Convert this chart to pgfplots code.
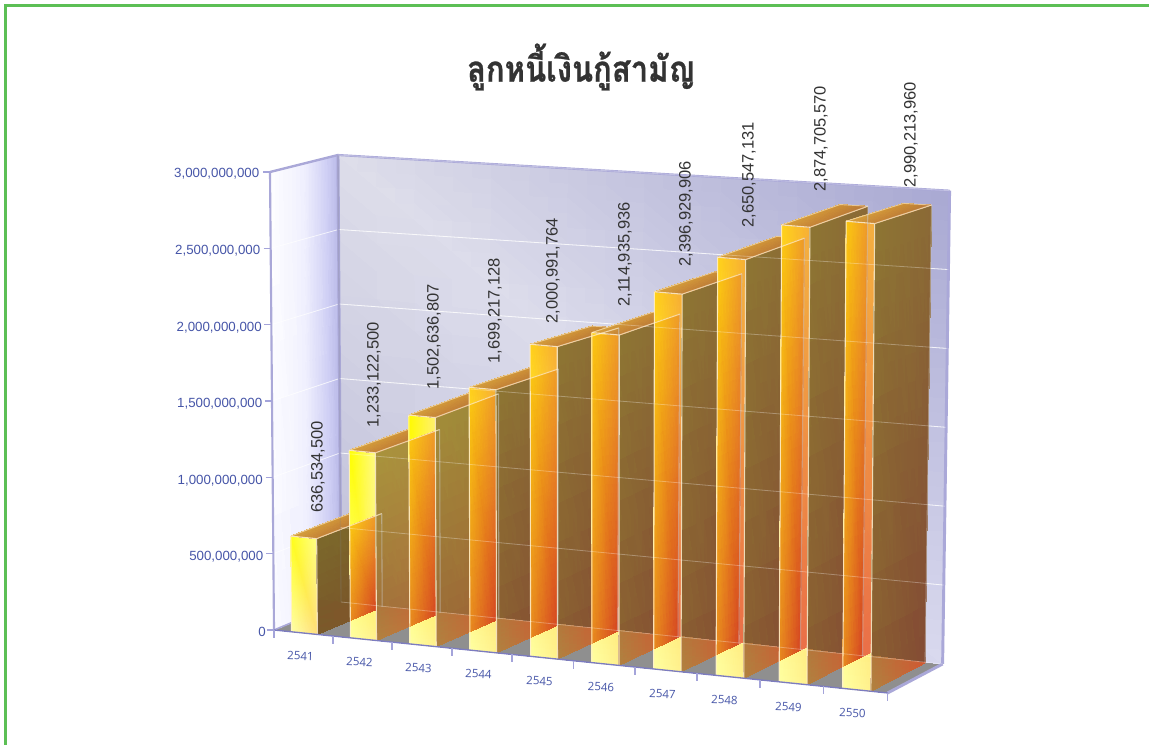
\documentclass[border=0pt]{standalone}
\usepackage{fontspec}
\setmainfont{Liberation Sans}
\newfontfamily\thaifont[Script=Thai,BoldFeatures={FakeBold=0.7}]{Loma}
\newfontfamily\catfont{Open Sans}
\usepackage{pgfplots}
\usepackage{pgfplotstable}
\pgfplotsset{compat=1.18}
\definecolor{frame}{HTML}{AAA8D8}
\definecolor{axisdark}{HTML}{7C7CC0}
\definecolor{tickc}{HTML}{A4A4DA}
\definecolor{lab}{HTML}{4655A8}
\definecolor{vallab}{HTML}{333333}
\definecolor{pale}{HTML}{FFF0D0}
\definecolor{border}{HTML}{5CBF55}

% k, kb: foreshortening of the bar height at its front and back in the reference's perspective
\pgfplotstableread{
idx value label lx ly k kb
0 636534500 636,534,500 318 513 .984 .980
1 1233122500 1,233,122,500 374 428 .993 .988
2 1502636807 1,502,636,807 434 390 .992 .990
3 1699217128 1,699,217,128 495 364 1.005 .990
4 2000991764 2,000,991,764 553 324 1.011 .990
5 2114935936 2,114,935,936 625 307 1.009 .993
6 2396929906 2,396,929,906 686 267 1.015 .997
7 2650547131 2,650,547,131 749 228 1.015 .998
8 2874705570 2,874,705,570 821 192 1.020 1.000
9 2990213960 2,990,213,960 911 188 1.000 .972
}\bardata

\makeatletter
% trilinear map of the slightly perspective box: t = category position, y = depth, z = value/3e9
\newcommand\vtx[3]{%
  \pgfmathsetmacro\Xv{(58.4*(#1)+0.296*(#1)*(#1))/614}%
  \pgfmathsetmacro\ua{274+614*\Xv}\pgfmathsetmacro\ub{341+602*\Xv}%
  \pgfmathsetmacro\uc{270+622*\Xv}\pgfmathsetmacro\ud{338+612*\Xv}%
  \pgfmathsetmacro\va{630+63*\Xv}\pgfmathsetmacro\vb{602+62*\Xv}%
  \pgfmathsetmacro\vc{172+51.5*\Xv}\pgfmathsetmacro\vd{155+35.7*\Xv}%
  \pgfmathsetmacro\ulo{\ua+(\ub-\ua)*(#2)}\pgfmathsetmacro\uhi{\uc+(\ud-\uc)*(#2)}%
  \pgfmathsetmacro\vlo{\va+(\vb-\va)*(#2)}\pgfmathsetmacro\vhi{\vc+(\vd-\vc)*(#2)}%
  \pgfmathsetmacro\vu{\ulo+(\uhi-\ulo)*(#3)}\pgfmathsetmacro\vv{\vlo+(\vhi-\vlo)*(#3)}%
}
\def\vtxc#1,#2,#3\relax{\vtx{#1}{#2}{#3}}
\newcommand\face[8]{%
  \vtxc#1\relax\edef\pa{(\vu,\vv) [rgb255=#5]}%
  \vtxc#2\relax\edef\pb{(\vu,\vv) [rgb255=#6]}%
  \vtxc#3\relax\edef\pc{(\vu,\vv) [rgb255=#7]}%
  \vtxc#4\relax\edef\pd{(\vu,\vv) [rgb255=#8]}%
  \edef\tmp{\noexpand\addplot[facepatch] coordinates {\pa\space\pb\space\pc\space\pd};}\tmp
}
\newcommand\tri[6]{%
  \vtxc#1\relax\edef\pa{(\vu,\vv) [rgb255=#4]}%
  \vtxc#2\relax\edef\pb{(\vu,\vv) [rgb255=#5]}%
  \vtxc#3\relax\edef\pc{(\vu,\vv) [rgb255=#6]}%
  \edef\tmp{\noexpand\addplot[facepatch,patch type=triangle] coordinates {\pa\space\pb\space\pc};}\tmp
}
\newcommand\seg[3]{%
  \vtxc#2\relax\edef\pa{(\vu,\vv)}%
  \vtxc#3\relax\edef\pb{(\vu,\vv)}%
  \edef\tmp{\noexpand\addplot[#1,forget plot] coordinates {\pa\space\pb};}\tmp
}
\newcommand\getbar[1]{%
  \pgfplotstablegetelem{#1}{value}\of\bardata\let\val\pgfplotsretval
  \pgfplotstablegetelem{#1}{k}\of\bardata\let\kval\pgfplotsretval
  \pgfplotstablegetelem{#1}{kb}\of\bardata\let\kbval\pgfplotsretval
  \begingroup\pgfkeys{/pgf/fpu=true,/pgf/fpu/output format=fixed}%
  \pgfmathparse{\val/3000000000*\kval}\xdef\zv{\pgfmathresult}%
  \pgfmathparse{\val/3000000000*\kbval}\xdef\zb{\pgfmathresult}\endgroup
}
\makeatother
\pgfplotsset{facepatch/.style={patch,patch type=rectangle,shader=interp,
  mesh/color input=explicit,point meta=explicit symbolic,forget plot}}
\newcommand\px[1]{\fontsize{\dimexpr#1pt*3/4\relax}{\dimexpr#1pt\relax}\selectfont}

\begin{document}
\begin{tikzpicture}
\begin{axis}[
  scale only axis, width=861.75pt, height=558.75pt,
  xmin=0,xmax=1149,ymin=0,ymax=745,y dir=reverse,
  hide axis, clip=true, no markers,
]
\addplot[fill=white,draw=none,forget plot] coordinates {(0,0)(1149,0)(1149,745)(0,745)} --cycle;
\addplot[color=border,line width=2pt,forget plot] coordinates {(1149,5.3)(5.3,5.3)(5.3,745)};

% floor
\face{0,0,0}{10,0,0}{10,1,0}{0,1,0}{143,143,143}{143,143,143}{143,143,143}{143,143,143}
% left wall
\face{0,0,0}{0,.5,0}{0,.5,1}{0,0,1}{250,250,255}{240,240,254}{240,240,254}{255,255,255}
\face{0,.5,0}{0,.85,0}{0,.85,1}{0,.5,1}{240,240,254}{206,206,244}{206,206,244}{240,240,254}
\face{0,.85,0}{0,1,0}{0,1,1}{0,.85,1}{206,206,244}{186,186,232}{186,186,232}{206,206,244}
% back wall
\face{0,1,0}{10,1,0}{10,1,1}{0,1,1}{192,192,218}{217,217,238}{168,168,210}{222,222,234}
% grid on walls
\foreach \g in {0,1,...,6}{%
  \pgfmathsetmacro\gz{\g/6}%
  \ifnum\g>0
  \seg{white,line width=.6pt,opacity=.75}{0,0,\gz}{0,1,\gz}
  \seg{white,line width=.6pt,opacity=.75}{0,1,\gz}{10,1,\gz}
  \fi
}
% frame
\seg{frame,line width=1.6pt}{0,0,0}{0,0,1}
\seg{frame,line width=1.8pt}{0,0,1}{0,1,1}
\seg{frame,line width=2.2pt}{0,1,0}{0,1,1}
\seg{frame,line width=1.6pt}{0,1,1}{10,1,1}
\seg{frame,line width=2.2pt}{10,1,0}{10,1,1}
\seg{frame,line width=2.2pt}{10,0,0}{10,1,0}
\seg{frame,line width=1.2pt}{0,0,0}{0,1,0}

% bars
\xdef\zp{0}\xdef\zq{0}
\foreach \i in {0,...,9}{%
  \getbar{\i}%
  \pgfmathsetmacro\tL{\i+.3}\pgfmathsetmacro\tR{\i+.74}%
  % front
  \ifcase\i
    \face{\tL,0,0}{\tR,0,0}{\tR,0,\zv}{\tL,0,\zv}{255,255,165}{255,222,125}{255,255,135}{255,255,25}
  \or
    \face{\tL,0,0}{\tR,0,0}{\tR,0,\zv}{\tL,0,\zv}{255,255,160}{255,240,140}{255,250,130}{255,255,0}
  \or
    \face{\tL,0,0}{\tR,0,0}{\tR,0,\zv}{\tL,0,\zv}{255,255,160}{255,240,140}{255,240,110}{255,250,0}
  \else
    \face{\tL,0,0}{\tR,0,0}{\tR,0,\zv}{\tL,0,\zv}{255,255,160}{255,240,140}{246,172,52}{255,208,24}
  \fi
  % part of the front over the previous bar's side
  \ifnum\i>0
    \pgfmathsetmacro\tRp{\i-1+.74}%
    \vtx{\tRp}{0}{0}\let\ur\vu\vtx{\tRp}{1}{0}\pgfmathsetmacro\dep{\vu-\ur}%
    \vtx{\tL}{0}{0}\pgfmathsetmacro\Yone{(\vu-\ur)/\dep}%
    \vtx{\tR}{0}{0}\pgfmathsetmacro\Ytwo{(\vu-\ur)/\dep}%
    \pgfmathsetmacro\Yc{min(\Ytwo,.98)}%
    \pgfmathsetmacro\zpA{\zp+(\zq-\zp)*\Yone/.98}%
    \pgfmathsetmacro\zpB{\zp+(\zq-\zp)*\Ytwo/.98}%
    \pgfmathsetmacro\zpC{\zp+(\zq-\zp)*\Yc/.98}%
    \vtx{\tL}{0}{\zv}\let\vf\vv
    \vtx{\tRp}{\Yone}{0}\let\vz\vv\vtx{\tRp}{\Yone}{1}\let\vo\vv
    \pgfmathsetmacro\zA{min(\zpA,(\vz-\vf)/(\vz-\vo))}%
    \vtx{\tR}{0}{\zv}\let\vf\vv
    \vtx{\tRp}{\Ytwo}{0}\let\vz\vv\vtx{\tRp}{\Ytwo}{1}\let\vo\vv
    \pgfmathsetmacro\zB{min(\zpB,(\vz-\vf)/(\vz-\vo))}%
    \vtx{\tRp}{\Yc}{0}\let\vz\vv\vtx{\tRp}{\Yc}{1}\let\vo\vv
    \pgfmathsetmacro\zC{min(\zpC,(\vz-\vf)/(\vz-\vo))}%
    \face{\tRp,\Yone,0}{\tRp,\Ytwo,0}{\tRp,\Ytwo,\zB}{\tRp,\Yone,\zA}{234,112,72}{234,112,72}{244,176,64}{244,176,64}
    \face{\tRp,\Yone,0}{\tRp,\Yc,0}{\tRp,\Yc,\zC}{\tRp,\Yone,\zA}{232,140,30}{214,72,34}{238,154,42}{251,199,17}
  \fi
  % side
  \ifcase\i
    \face{\tR,0,0}{\tR,.98,0}{\tR,.98,\zb}{\tR,0,\zv}{122,90,42}{122,82,40}{124,100,40}{124,106,44}
    \tri{\tR,0,0}{\tR,.98,0}{\tR,0,.0755}{122,90,42}{130,84,42}{122,90,42}
  \or
    \face{\tR,0,0}{\tR,.98,0}{\tR,.98,\zb}{\tR,0,\zv}{160,110,58}{171,108,60}{171,141,64}{168,149,60}
    \tri{\tR,0,0}{\tR,.98,0}{\tR,0,.0755}{176,130,64}{206,100,54}{172,120,60}
  \or
    \face{\tR,0,0}{\tR,.98,0}{\tR,.98,\zb}{\tR,0,\zv}{154,106,56}{160,100,52}{156,136,56}{162,142,58}
    \tri{\tR,0,0}{\tR,.98,0}{\tR,0,.0755}{176,130,64}{206,95,52}{176,122,60}
  \else
    \face{\tR,0,0}{\tR,.98,0}{\tR,.98,\zb}{\tR,0,\zv}{138,96,49}{132,76,52}{139,107,54}{142,119,51}
    \tri{\tR,0,0}{\tR,.98,0}{\tR,0,.0755}{176,130,64}{208,88,50}{178,122,60}
  \fi
  % top
  \face{\tL,0,\zv}{\tR,0,\zv}{\tR,.98,\zb}{\tL,.98,\zb}{214,160,60}{196,130,55}{184,120,56}{205,145,55}
  % front outline
  \seg{pale,line width=.8pt,opacity=.85}{\tL,0,0}{\tL,0,\zv}
  \seg{pale,line width=.8pt,opacity=.85}{\tR,0,0}{\tR,0,\zv}
  \seg{pale,line width=.8pt,opacity=.85}{\tL,0,\zv}{\tR,0,\zv}
  \seg{pale,line width=.7pt,opacity=.85}{\tL,0,0}{\tR,0,0}
  \seg{pale,line width=.7pt,opacity=.6}{\tL,0,\zv}{\tL,.98,\zb}
  \seg{pale,line width=.7pt,opacity=.6}{\tL,.98,\zb}{\tR,.98,\zb}
  \xdef\zp{\zv}\xdef\zq{\zb}%
}
% see-through details
\foreach \i in {0,...,9}{%
  \getbar{\i}%
  \pgfmathsetmacro\tR{\i+.74}%
  \seg{pale,line width=.8pt,opacity=.7}{\tR,0,\zv}{\tR,.98,\zb}
  \seg{gray!40,line width=.8pt,opacity=.5}{\tR,.98,0}{\tR,.98,\zb}
}
\foreach \g in {0,1,...,6}{%
  \pgfmathsetmacro\gz{\g/6}%
  \seg{white,line width=.6pt,opacity=.3}{0,1,\gz}{10,1,\gz}
}
\seg{gray,line width=1pt,opacity=.2}{0,1,0}{0,1,1}
% x axis and ticks
\seg{axisdark,line width=1pt}{0,0,0}{10,0,0}
\foreach \g in {0,...,10}{%
  \vtx{\g}{0}{0}%
  \pgfmathsetmacro\ve{\vv+8}%
  \edef\tmp{\noexpand\addplot[tickc,line width=1.3pt,forget plot] coordinates {(\vu,\vv) (\vu,\ve)};}\tmp
}
% z ticks
\foreach \g in {0,...,6}{%
  \pgfmathsetmacro\gz{\g/6}%
  \vtx{0}{0}{\gz}%
  \pgfmathsetmacro\ue{\vu-7}%
  \edef\tmp{\noexpand\addplot[tickc,line width=.8pt,forget plot] coordinates {(\ue,\vv) (\vu,\vv)};}\tmp
}
% value labels on the bars
\addplot[draw=none,mark=none,forget plot,point meta=explicit symbolic,nodes near coords,
  nodes near coords style={rotate=90,anchor=west,inner sep=0pt,text=vallab,font=\px{16.5}}]
  table[x=lx,y=ly,meta=label]{\bardata};

% text
\node[anchor=center,text=vallab,font=\thaifont\bfseries\px{36}] at (axis cs:581,67) {\scalebox{.86}[1]{ลูกหนี้เงินกู้สามัญ}};
\foreach \n/\y/\x in {0/631.5/266,{500,000,000}/556.5/263.5,{1,000,000,000}/480.5/263,{1,500,000,000}/403.5/262.5,{2,000,000,000}/327.5/262,{2,500,000,000}/250.5/260.5,{3,000,000,000}/173.5/259.5}{%
  \edef\tmp{\noexpand\node[anchor=east,inner sep=0pt,text=lab,font=\noexpand\px{13.3}] at (axis cs:\x,\y) {\n};}\tmp
}
\foreach \n/\x/\y in {2541/300.5/656,2542/359.5/662,2543/418.5/668,2544/478.5/674,2545/539.5/681,2546/601/687,2547/662.5/694,2548/724.5/700,2549/788.5/707,2550/852.5/713}{%
  \edef\tmp{\noexpand\node[anchor=center,inner sep=0pt,rotate=-2,text=lab,font=\noexpand\catfont\noexpand\px{11.5}] at (axis cs:\x,\y) {\n};}\tmp
}
\end{axis}
\end{tikzpicture}
\end{document}
